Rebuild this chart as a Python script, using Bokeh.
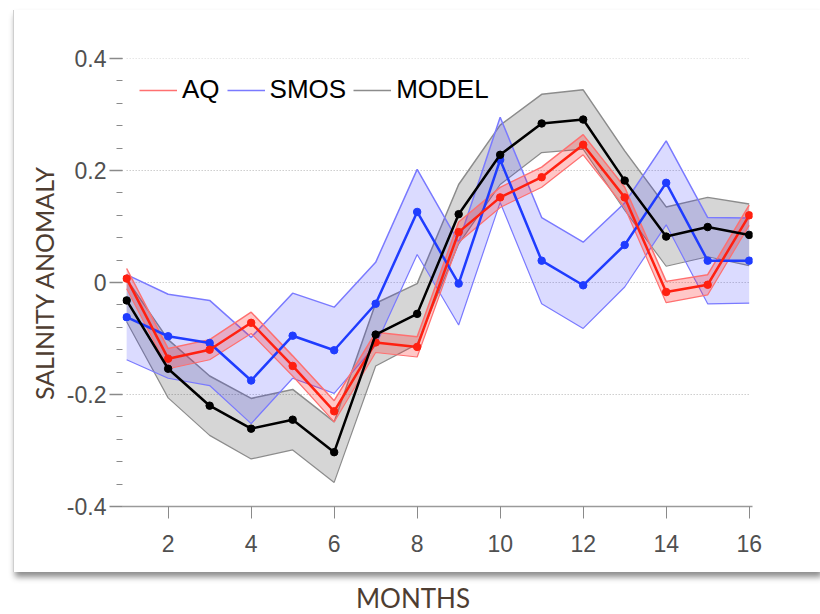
from bokeh.plotting import figure
from bokeh.models import (Range1d, SingleIntervalTicker, FixedTicker, Legend, LegendItem,
                          ColumnDataSource, Div, Title, CustomJSTickFormatter)
from bokeh.layouts import column
from bokeh.embed import file_html
from bokeh.resources import INLINE

months = [1, 2, 3, 4, 5, 6, 7, 8, 9, 10, 11, 12, 13, 14, 15, 16]
aq = [0.007, -0.136, -0.120, -0.072, -0.149, -0.230, -0.107, -0.115,
      0.090, 0.152, 0.188, 0.246, 0.152, -0.017, -0.004, 0.120]
aq_err = [0.018, 0.018, 0.018, 0.019, 0.018, 0.019, 0.018, 0.018,
          0.018, 0.018, 0.018, 0.018, 0.018, 0.019, 0.018, 0.018]
smos = [-0.062, -0.096, -0.108, -0.175, -0.095, -0.121, -0.038, 0.126,
        -0.002, 0.219, 0.039, -0.005, 0.067, 0.178, 0.039, 0.039]
smos_err = [0.076, 0.075, 0.076, 0.077, 0.076, 0.077, 0.074, 0.076,
            0.074, 0.076, 0.077, 0.077, 0.075, 0.075, 0.077, 0.076]
model = [-0.032, -0.154, -0.220, -0.261, -0.245, -0.303, -0.093, -0.056,
         0.122, 0.228, 0.284, 0.291, 0.182, 0.082, 0.099, 0.085]
model_err = [0.038, 0.052, 0.053, 0.054, 0.054, 0.054, 0.056, 0.054,
             0.053, 0.053, 0.052, 0.053, 0.053, 0.053, 0.053, 0.055]

x_ticks = [2, 4, 6, 8, 10, 12, 14, 16]
grid_levels = [0.4, 0.2, 0.0, -0.2]


def band(vals, errs):
    lo = [v - e for v, e in zip(vals, errs)]
    hi = [v + e for v, e in zip(vals, errs)]
    return ColumnDataSource(dict(x=months, y=vals, lo=lo, hi=hi))


src_aq = band(aq, aq_err)
src_smos = band(smos, smos_err)
src_model = band(model, model_err)

p = figure(width=807, height=562, output_backend="svg", toolbar_location=None,
           x_range=Range1d(0.9, 16.08), y_range=Range1d(-0.4, 0.4),
           min_border_left=108, min_border_right=69, min_border_top=48,
           min_border_bottom=66)
p.outline_line_color = None
p.background_fill_color = "white"
p.border_fill_color = "white"
p.styles = {"box-shadow": "2px 5px 6px rgba(0,0,0,0.45)", "border-left": "1px solid #cfcfcf"}
p.margin = (10, 0, 0, 13)

# grid
p.xgrid.visible = False
p.ygrid.visible = False
for g in grid_levels:
    p.segment(x0=months[0], x1=months[-1], y0=g, y1=g, line_color="#b5b5b5",
              line_width=1, line_dash="1 2")

# bands
def draw_band(src, fill, edge, alpha):
    p.varea(x="x", y1="lo", y2="hi", source=src, fill_color=fill, fill_alpha=alpha)
    top = p.line("x", "hi", source=src, line_color=edge, line_width=1.5)
    p.line("x", "lo", source=src, line_color=edge, line_width=1.2)
    return top

e_model = draw_band(src_model, "#000000", "#8c8c8c", 0.16)
e_smos = draw_band(src_smos, "#2a2aff", "#7a7aff", 0.17)
e_aq = draw_band(src_aq, "#ff2020", "#ff7070", 0.25)

# series
for src, col in [(src_smos, "#1f3cff"), (src_aq, "#ff2010"), (src_model, "#000000")]:
    p.line("x", "y", source=src, line_color=col, line_width=2.5)
    p.scatter("x", "y", source=src, size=7.5, color=col)

tick_font = "Liberation Sans"

# axes
p.xaxis.ticker = FixedTicker(ticks=x_ticks)
p.xaxis.axis_line_color = "#9a9a9a"
p.xaxis.axis_line_width = 1.5
p.xaxis.major_tick_line_color = "#8a8a8a"
p.xaxis.major_tick_out = 12
p.xaxis.major_tick_in = 0
p.xaxis.minor_tick_line_color = None
p.xaxis.major_label_text_font = tick_font
p.xaxis.major_label_text_font_size = "23px"
p.xaxis.major_label_text_color = "#505050"
p.xaxis.major_label_standoff = 16

p.yaxis.ticker = SingleIntervalTicker(interval=0.2, num_minor_ticks=5)
p.yaxis.formatter = CustomJSTickFormatter(
    code="return Math.abs(tick) < 1e-9 ? '0' : tick.toFixed(1);")
p.yaxis.axis_line_color = None
p.yaxis.major_tick_line_color = "#8a8a8a"
p.yaxis.major_tick_line_width = 1.5
p.yaxis.major_tick_out = 13
p.yaxis.major_tick_in = 0
p.yaxis.minor_tick_line_color = "#8a8a8a"
p.yaxis.minor_tick_out = 6
p.yaxis.minor_tick_in = 0
p.yaxis.major_label_text_font = tick_font
p.yaxis.major_label_text_font_size = "23px"
p.yaxis.major_label_text_color = "#505050"
p.yaxis.major_label_standoff = 3

ylab = Title(text="SALINITY ANOMALY", align="center", offset=33,
             text_font="Lato", text_font_size="25px", text_font_style="normal",
             text_color="#4e3d31", standoff=9)
p.add_layout(ylab, "left")

legend = Legend(items=[LegendItem(label="AQ", renderers=[e_aq]),
                       LegendItem(label="SMOS", renderers=[e_smos]),
                       LegendItem(label="MODEL", renderers=[e_model])],
                orientation="horizontal", location="top_left",
                glyph_width=38, glyph_height=20, label_standoff=5, spacing=7,
                padding=0, margin=0,
                label_text_font="Liberation Sans", label_text_font_size="26px",
                label_text_color="#000000",
                border_line_color=None, background_fill_alpha=0)
legend.location = (17, 401)
p.add_layout(legend)

lbl = Div(text="MONTHS", width=807, height=28, margin=(12, 0, 0, 13),
          styles={"text-align": "center", "font-family": "Lato", "font-size": "26px",
                  "line-height": "28px", "color": "#4e3d31", "width": "800px"})

layout = column(p, lbl)

with open("out.html", "w") as f:
    f.write(file_html(layout, INLINE))
